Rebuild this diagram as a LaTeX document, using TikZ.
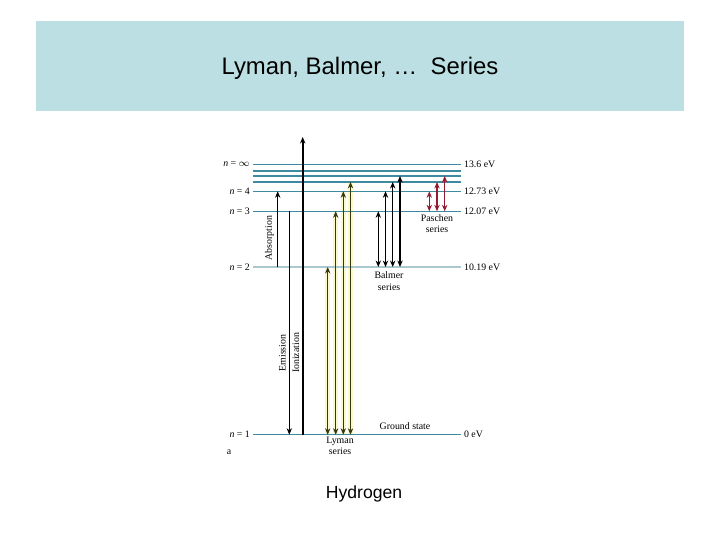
\documentclass[tikz,border=0pt]{standalone}
\usepackage{fontspec}
\setmainfont{Liberation Serif}
\newfontfamily\arialfont{Liberation Sans}
\usetikzlibrary{arrows.meta}
\definecolor{titlebg}{RGB}{187,223,227}
\definecolor{levelcol}{RGB}{62,138,158}
\definecolor{levellight}{RGB}{170,200,206}
\definecolor{lymancol}{RGB}{55,55,20}
\definecolor{lymanglow}{RGB}{250,250,200}
\definecolor{paschencol}{RGB}{150,25,50}
\newcommand{\smalltxt}{\fontsize{7}{8}\selectfont}
\tikzset{
  >={Stealth[length=4.6pt, width=3.8pt]},
  level/.style={draw=levelcol, line width=0.75pt},
  nlab/.style={anchor=east, font=\smalltxt, inner sep=2pt},
  elab/.style={anchor=west, font=\smalltxt, inner sep=2pt},
  serieslab/.style={align=center, font=\smalltxt, inner sep=0pt},
  vlab/.style={rotate=90, font=\smalltxt, inner sep=0pt},
  upline/.style={->, line width=1.1pt},
  downline/.style={->, line width=0.6pt},
  lymanband/.style={draw=lymanglow, line width=3.6pt},
  lyman/.style={<->, draw=lymancol, line width=0.6pt},
  balmer/.style={<->, draw=black, line width=1pt},
  paschen/.style={<->, draw=paschencol, line width=1pt},
}

\begin{document}
\begin{tikzpicture}[x=0.025cm, y=-0.025cm]
  \useasboundingbox (0,0) rectangle (720,540);

  % ── Title band ──
  \fill[titlebg] (36,21) rectangle (684,111);
  \node[font=\arialfont\fontsize{17}{20}\selectfont] (title) at (360,68)
    {Lyman, Balmer, \dots\ \ Series};

  % ── Level heights and line ends ──
  \coordinate (Linf) at (0,164.5);
  \coordinate (L7)   at (0,171);
  \coordinate (L6)   at (0,176);
  \coordinate (L5)   at (0,182);
  \coordinate (L4)   at (0,191.3);
  \coordinate (L3)   at (0,211.3);
  \coordinate (L2)   at (0,267);
  \coordinate (L1)   at (0,434.7);
  \coordinate (Ltop) at (0,137);
  \coordinate (lft)  at (253,0);
  \coordinate (rgt)  at (461,0);

  % ── Columns of the transitions ──
  \coordinate (cAbs) at (277.7,0);
  \coordinate (cEm)  at (289.3,0);
  \coordinate (cIon) at (302.7,0);
  \coordinate (cLa) at (327.7,0);
  \coordinate (cLb) at (335.7,0);
  \coordinate (cLc) at (343.3,0);
  \coordinate (cLd) at (350.5,0);
  \coordinate (cBa) at (378.3,0);
  \coordinate (cBb) at (385.5,0);
  \coordinate (cBc) at (392.7,0);
  \coordinate (cBd) at (400,0);
  \coordinate (cPa) at (429.3,0);
  \coordinate (cPb) at (437,0);
  \coordinate (cPc) at (444.7,0);

  % ── Lyman highlight bands ──
  \draw[lymanband] (cLa |- L1) -- (cLa |- L2);
  \draw[lymanband] (cLb |- L1) -- (cLb |- L3);
  \draw[lymanband] (cLc |- L1) -- (cLc |- L4);
  \draw[lymanband] (cLd |- L1) -- (cLd |- L5);

  % ── Energy levels ──
  \draw[level] (lft |- Linf) -- (rgt |- Linf);
  \draw[level] (lft |- L7)   -- (rgt |- L7);
  \draw[level] (lft |- L6)   -- (rgt |- L6);
  \draw[level] (lft |- L5)   -- (rgt |- L5);
  \draw[level] (lft |- L4)   -- (rgt |- L4);
  \draw[level] (lft |- L3)   -- (rgt |- L3);
  \draw[level, draw=levellight] (lft |- L2) -- (rgt |- L2);
  \draw[level] (lft |- L1)   -- (rgt |- L1);

  % ── Quantum numbers ──
  \node[nlab] (ninf) at (lft |- Linf) {\textit{n} = $\infty$};
  \node[nlab] (nfour) at (lft |- L4) {\textit{n} = 4};
  \node[nlab] (nthree) at (lft |- L3) {\textit{n} = 3};
  \node[nlab] (ntwo) at (lft |- L2) {\textit{n} = 2};
  \node[nlab] (none) at (lft |- L1) {\textit{n} = 1};

  % ── Energies ──
  \node[elab] (einf) at (rgt |- Linf) {13.6 eV};
  \node[elab] (efour) at (rgt |- L4) {12.73 eV};
  \node[elab] (ethree) at (rgt |- L3) {12.07 eV};
  \node[elab] (etwo) at (rgt |- L2) {10.19 eV};
  \node[elab] (eone) at (rgt |- L1) {0 eV};

  % ── Absorption, emission, ionization ──
  \draw[upline] (cAbs |- L2) -- (cAbs |- L4);
  \draw[downline] (cEm |- L3) -- (cEm |- L1);
  \draw[upline, line width=1.3pt] (cIon |- L1) -- (cIon |- Ltop);
  \node[vlab] (absl) at (269.5,238) {Absorption};
  \node[vlab] (eml) at (282.5,353) {Emission};
  \node[vlab] (ionl) at (296,353) {Ionization};

  % ── Lyman series ──
  \draw[lyman] (cLa |- L1) -- (cLa |- L2);
  \draw[lyman] (cLb |- L1) -- (cLb |- L3);
  \draw[lyman] (cLc |- L1) -- (cLc |- L4);
  \draw[lyman] (cLd |- L1) -- (cLd |- L5);
  \node[serieslab] (lymanl) at (340,446) {Lyman\\series};

  % ── Balmer series ──
  \draw[balmer] (cBa |- L2) -- (cBa |- L3);
  \draw[balmer] (cBb |- L2) -- (cBb |- L4);
  \draw[balmer] (cBc |- L2) -- (cBc |- L5);
  \draw[balmer] (cBd |- L2) -- (cBd |- L6);
  \node[serieslab] (balmerl) at (389,281) {Balmer\\series};

  % ── Paschen series ──
  \draw[paschen] (cPa |- L3) -- (cPa |- L4);
  \draw[paschen] (cPb |- L3) -- (cPb |- L5);
  \draw[paschen] (cPc |- L3) -- (cPc |- L6);
  \node[serieslab] (paschenl) at (437,223.5) {Paschen\\series};

  % ── Other labels ──
  \node[font=\smalltxt, anchor=south, inner sep=1.5pt] (ground) at (405,432) {Ground state};
  \node[font=\smalltxt] (panel) at (229,452) {a};
  \node[font=\arialfont\fontsize{12.5}{14}\selectfont] (hyd) at (364,494) {Hydrogen};

\end{tikzpicture}
\end{document}
